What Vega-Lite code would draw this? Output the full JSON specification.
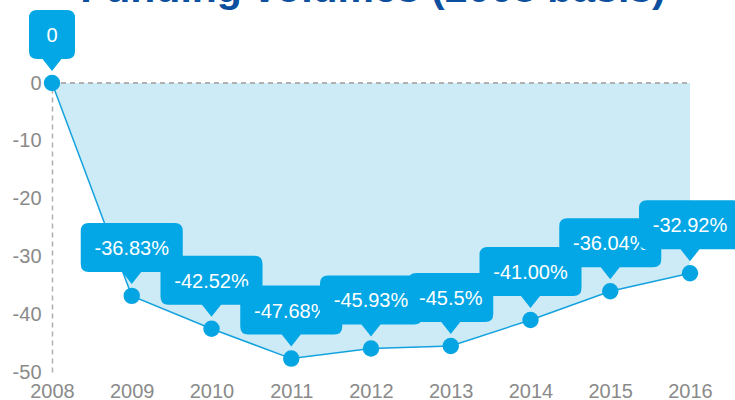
{
  "$schema": "https://vega.github.io/schema/vega-lite/v6.json",
  "width": 638,
  "height": 289,
  "autosize": "none",
  "padding": {"left": 52, "top": 83, "right": 45, "bottom": 28},
  "background": "white",
  "config": {"view": {"stroke": null}, "font": "Liberation Sans"},
  "title": {
    "text": "Funding volumes (2008 basis)",
    "fontSize": 41,
    "fontWeight": "bold",
    "color": "#0c4f9e",
    "font": "Liberation Sans",
    "anchor": "middle",
    "baseline": "alphabetic",
    "offset": 0,
    "dx": 2,
    "dy": 33
  },
  "data": {
    "values": [
      {"year": 2008, "value": 0, "label": "0"},
      {"year": 2009, "value": -36.83, "label": "-36.83%"},
      {"year": 2010, "value": -42.52, "label": "-42.52%"},
      {"year": 2011, "value": -47.68, "label": "-47.68%"},
      {"year": 2012, "value": -45.93, "label": "-45.93%"},
      {"year": 2013, "value": -45.5, "label": "-45.5%"},
      {"year": 2014, "value": -41.0, "label": "-41.00%"},
      {"year": 2015, "value": -36.04, "label": "-36.04%"},
      {"year": 2016, "value": -32.92, "label": "-32.92%"}
    ]
  },
  "encoding": {
    "x": {
      "field": "year", "type": "quantitative",
      "scale": {"domain": [2008, 2016], "nice": false, "zero": false},
      "axis": {"title": null, "values": [2008, 2009, 2010, 2011, 2012, 2013, 2014, 2015, 2016], "format": "d", "domain": false, "ticks": false, "grid": false, "labelFontSize": 20, "labelColor": "#8a8a8a", "labelPadding": 9, "labelFlush": false, "labelOverlap": false, "labelFont": "Liberation Sans"}
    },
    "y": {
      "field": "value", "type": "quantitative",
      "scale": {"domain": [-50, 0], "nice": false},
      "axis": {"title": null, "values": [0, -10, -20, -30, -40, -50], "labelExpr": "datum.value == 0 ? '0' : '-' + abs(datum.value)", "domain": true, "domainColor": "#b0b0b0", "domainDash": [5, 4], "domainWidth": 1.5, "ticks": false, "grid": false, "labelFontSize": 20, "labelColor": "#8a8a8a", "labelPadding": 11, "labelFont": "Liberation Sans"}
    }
  },
  "layer": [
    {"mark": {"type": "area", "color": "#cdebf7", "opacity": 1}, "encoding": {"y2": {"datum": 0}}},
    {"mark": {"type": "rule", "color": "#b0b0b0", "strokeDash": [5, 4], "strokeWidth": 1.5}, "encoding": {"y": {"datum": 0}, "x": {"datum": 2008}, "x2": {"datum": 2016}}},
    {"mark": {"type": "line", "color": "#13a2de", "strokeWidth": 1.5}},
    {"mark": {"type": "point", "shape": "circle", "filled": true, "size": 270, "color": "#05a5e3", "opacity": 1}},
    {"transform": [{"filter": "datum.year == 2008"}], "layer": [
      {"mark": {"type": "point", "filled": true, "opacity": 1, "color": "#03a7e5", "strokeWidth": 0, "size": 10000, "shape": "M -0.3 -1.46 L 0.3 -1.46 Q 0.46 -1.46 0.46 -1.3 L 0.46 -0.64 Q 0.46 -0.48 0.3 -0.48 L 0.19 -0.48 L 0 -0.24 L -0.19 -0.48 L -0.3 -0.48 Q -0.46 -0.48 -0.46 -0.64 L -0.46 -1.3 Q -0.46 -1.46 -0.3 -1.46 Z"}},
      {"mark": {"type": "text", "color": "white", "fontSize": 20, "baseline": "middle", "dy": -47}, "encoding": {"text": {"field": "label"}}}
    ]},
    {"transform": [{"filter": "datum.year == 2009"}], "layer": [
      {"mark": {"type": "point", "filled": true, "opacity": 1, "color": "#03a7e5", "strokeWidth": 0, "size": 10000, "shape": "M -0.86 -1.46 L 0.86 -1.46 Q 1.02 -1.46 1.02 -1.3 L 1.02 -0.64 Q 1.02 -0.48 0.86 -0.48 L 0.19 -0.48 L 0 -0.24 L -0.19 -0.48 L -0.86 -0.48 Q -1.02 -0.48 -1.02 -0.64 L -1.02 -1.3 Q -1.02 -1.46 -0.86 -1.46 Z"}},
      {"mark": {"type": "text", "color": "white", "fontSize": 20, "baseline": "middle", "dy": -47}, "encoding": {"text": {"field": "label"}}}
    ]},
    {"transform": [{"filter": "datum.year == 2010"}], "layer": [
      {"mark": {"type": "point", "filled": true, "opacity": 1, "color": "#03a7e5", "strokeWidth": 0, "size": 10000, "shape": "M -0.86 -1.46 L 0.86 -1.46 Q 1.02 -1.46 1.02 -1.3 L 1.02 -0.64 Q 1.02 -0.48 0.86 -0.48 L 0.19 -0.48 L 0 -0.24 L -0.19 -0.48 L -0.86 -0.48 Q -1.02 -0.48 -1.02 -0.64 L -1.02 -1.3 Q -1.02 -1.46 -0.86 -1.46 Z"}},
      {"mark": {"type": "text", "color": "white", "fontSize": 20, "baseline": "middle", "dy": -47}, "encoding": {"text": {"field": "label"}}}
    ]},
    {"transform": [{"filter": "datum.year == 2011"}], "layer": [
      {"mark": {"type": "point", "filled": true, "opacity": 1, "color": "#03a7e5", "strokeWidth": 0, "size": 10000, "shape": "M -0.86 -1.46 L 0.86 -1.46 Q 1.02 -1.46 1.02 -1.3 L 1.02 -0.64 Q 1.02 -0.48 0.86 -0.48 L 0.19 -0.48 L 0 -0.24 L -0.19 -0.48 L -0.86 -0.48 Q -1.02 -0.48 -1.02 -0.64 L -1.02 -1.3 Q -1.02 -1.46 -0.86 -1.46 Z"}},
      {"mark": {"type": "text", "color": "white", "fontSize": 20, "baseline": "middle", "dy": -47}, "encoding": {"text": {"field": "label"}}}
    ]},
    {"transform": [{"filter": "datum.year == 2012"}], "layer": [
      {"mark": {"type": "point", "filled": true, "opacity": 1, "color": "#03a7e5", "strokeWidth": 0, "size": 10000, "shape": "M -0.86 -1.46 L 0.86 -1.46 Q 1.02 -1.46 1.02 -1.3 L 1.02 -0.64 Q 1.02 -0.48 0.86 -0.48 L 0.19 -0.48 L 0 -0.24 L -0.19 -0.48 L -0.86 -0.48 Q -1.02 -0.48 -1.02 -0.64 L -1.02 -1.3 Q -1.02 -1.46 -0.86 -1.46 Z"}},
      {"mark": {"type": "text", "color": "white", "fontSize": 20, "baseline": "middle", "dy": -47}, "encoding": {"text": {"field": "label"}}}
    ]},
    {"transform": [{"filter": "datum.year == 2013"}], "layer": [
      {"mark": {"type": "point", "filled": true, "opacity": 1, "color": "#03a7e5", "strokeWidth": 0, "size": 10000, "shape": "M -0.69 -1.46 L 0.69 -1.46 Q 0.85 -1.46 0.85 -1.3 L 0.85 -0.64 Q 0.85 -0.48 0.69 -0.48 L 0.19 -0.48 L 0 -0.24 L -0.19 -0.48 L -0.69 -0.48 Q -0.85 -0.48 -0.85 -0.64 L -0.85 -1.3 Q -0.85 -1.46 -0.69 -1.46 Z"}},
      {"mark": {"type": "text", "color": "white", "fontSize": 20, "baseline": "middle", "dy": -47}, "encoding": {"text": {"field": "label"}}}
    ]},
    {"transform": [{"filter": "datum.year == 2014"}], "layer": [
      {"mark": {"type": "point", "filled": true, "opacity": 1, "color": "#03a7e5", "strokeWidth": 0, "size": 10000, "shape": "M -0.86 -1.46 L 0.86 -1.46 Q 1.02 -1.46 1.02 -1.3 L 1.02 -0.64 Q 1.02 -0.48 0.86 -0.48 L 0.19 -0.48 L 0 -0.24 L -0.19 -0.48 L -0.86 -0.48 Q -1.02 -0.48 -1.02 -0.64 L -1.02 -1.3 Q -1.02 -1.46 -0.86 -1.46 Z"}},
      {"mark": {"type": "text", "color": "white", "fontSize": 20, "baseline": "middle", "dy": -47}, "encoding": {"text": {"field": "label"}}}
    ]},
    {"transform": [{"filter": "datum.year == 2015"}], "layer": [
      {"mark": {"type": "point", "filled": true, "opacity": 1, "color": "#03a7e5", "strokeWidth": 0, "size": 10000, "shape": "M -0.86 -1.46 L 0.86 -1.46 Q 1.02 -1.46 1.02 -1.3 L 1.02 -0.64 Q 1.02 -0.48 0.86 -0.48 L 0.19 -0.48 L 0 -0.24 L -0.19 -0.48 L -0.86 -0.48 Q -1.02 -0.48 -1.02 -0.64 L -1.02 -1.3 Q -1.02 -1.46 -0.86 -1.46 Z"}},
      {"mark": {"type": "text", "color": "white", "fontSize": 20, "baseline": "middle", "dy": -47}, "encoding": {"text": {"field": "label"}}}
    ]},
    {"transform": [{"filter": "datum.year == 2016"}], "layer": [
      {"mark": {"type": "point", "filled": true, "opacity": 1, "color": "#03a7e5", "strokeWidth": 0, "size": 10000, "shape": "M -0.86 -1.46 L 0.86 -1.46 Q 1.02 -1.46 1.02 -1.3 L 1.02 -0.64 Q 1.02 -0.48 0.86 -0.48 L 0.19 -0.48 L 0 -0.24 L -0.19 -0.48 L -0.86 -0.48 Q -1.02 -0.48 -1.02 -0.64 L -1.02 -1.3 Q -1.02 -1.46 -0.86 -1.46 Z"}},
      {"mark": {"type": "text", "color": "white", "fontSize": 20, "baseline": "middle", "dy": -47}, "encoding": {"text": {"field": "label"}}}
    ]}
  ]
}
